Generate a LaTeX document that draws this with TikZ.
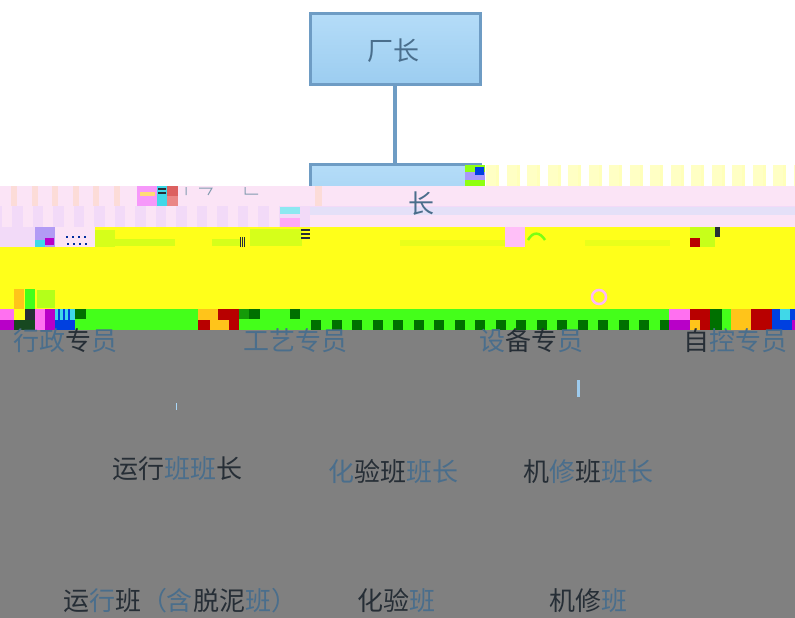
\documentclass[tikz,border=0pt]{standalone}
\usepackage{fontspec}
\newfontfamily\cjk{Noto Sans CJK SC}
\definecolor{boxfill}{HTML}{A9D6F6}
\definecolor{boxfilltop}{HTML}{B4DCF8}
\definecolor{boxfillbot}{HTML}{9CCDF0}
\definecolor{boxline}{HTML}{6E9CC4}
\definecolor{bandpink}{HTML}{FBE4F6}
\definecolor{bandpeach}{HTML}{FCDCD8}
\definecolor{bandlav}{HTML}{F2DAF8}
\definecolor{bandlavb}{HTML}{E4E0F8}
\definecolor{glyellow}{HTML}{FFFF1A}
\definecolor{glgreen}{HTML}{44FF1A}
\definecolor{gldark}{HTML}{007000}
\definecolor{glgray}{HTML}{808080}
\definecolor{glcream}{HTML}{FFFFC4}
\definecolor{glorange}{HTML}{FFC41A}
\definecolor{glred}{HTML}{B80000}
\definecolor{glpink}{HTML}{FF70F0}
\definecolor{glpurple}{HTML}{B800C8}
\definecolor{glblue}{HTML}{0040E0}
\definecolor{glcyan}{HTML}{40D8E8}
\definecolor{txtb}{HTML}{4A6E8C}
\definecolor{txtk}{HTML}{262E36}
\newcommand{\Bc}[1]{\textcolor{txtb}{#1}}
\newcommand{\Kc}[1]{\textcolor{txtk}{#1}}
\newcommand{\Rc}[5]{\fill[#1] (#2,#3) rectangle (#4,#5);}
\tikzset{
  orgbox/.style={draw=boxline,line width=3pt,top color=boxfilltop,bottom color=boxfillbot,minimum width=170pt,minimum height=70pt,inner sep=0pt},
  lbl/.style={font=\cjk\fontsize{26}{26}\selectfont,inner sep=0pt,text=txtb},
  link/.style={draw=boxline,line width=3.4pt},
}
\begin{document}
\begin{tikzpicture}[x=1pt,y=-1pt]
\useasboundingbox (0,0) rectangle (795,618);
\fill[white] (0,0) rectangle (795,618);
% top boxes and connector
\node[orgbox] (factory) at (395,49) {};
\node[orgbox] (deputy) at (395,199) {};
\draw[link] (factory) -- (deputy);
\node[lbl] (factorytext) at (393,51) {厂\Bc{长}};
% cream stripes right of the second box
\foreach \i in {0,...,15} {
  \Rc{glcream}{\i*20.5+486}{165}{\i*20.5+496}{186}
  \Rc{glyellow!30}{\i*20.5+496}{165}{\i*20.5+499}{186}
}
\Rc{glgreen!60!yellow}{465}{165}{485}{172}
\Rc{bandlav!70!blue}{465}{172}{485}{180}
\Rc{glgreen!60!yellow}{465}{180}{485}{186}
\Rc{glblue}{475}{167}{484}{175}
% bands
\Rc{bandpink}{0}{186}{795}{206}
\foreach \i in {0,...,5} {\Rc{bandpeach}{\i*20.5+11}{186}{\i*20.5+17}{206}}
\Rc{bandpeach}{315}{186}{322}{206}
\Rc{bandlav}{0}{206}{795}{227}
\foreach \i in {0,...,13} {\Rc{bandpink}{\i*20.5+2}{206}{\i*20.5+12}{227}}
\Rc{bandlavb}{310}{207}{795}{215}
\Rc{bandpink}{310}{215}{795}{227}
\Rc{glcyan!60!white}{280}{207}{300}{214}
\Rc{glpink!60!white}{280}{218}{300}{227}
% corrupt blocks on the pink row
\Rc{bandlav!70!magenta}{137}{186}{157}{206}
\Rc{glorange!60}{140}{192}{155}{196}
\Rc{glcyan}{157}{186}{167}{206}
\Rc{txtk}{158}{188}{166}{190}
\Rc{txtk}{158}{192}{166}{194}
\Rc{glred!50!pink}{167}{186}{178}{196}
\Rc{glred!30!pink}{167}{196}{178}{206}
% fragments of a cut-off label
\draw[txtb!70,line width=1pt] (186,187) -- (186,195) (199,188) -- (212,188) -- (208,195) (245,187) -- (245,194) -- (258,194);
% yellow field
\Rc{glyellow}{0}{227}{795}{309}
\Rc{bandlav}{0}{227}{35}{247}
\Rc{bandpink}{55}{227}{95}{247}
\Rc{glpink!70!cyan}{35}{227}{55}{247}
\Rc{glcyan}{35}{240}{45}{247}
\Rc{glpurple}{45}{238}{54}{245}
\foreach \x in {66,72,78,84} {\Rc{glblue!70!black}{\x}{236}{\x+2}{238}\Rc{glblue!70!black}{\x+1}{243}{\x+3}{245}}
\Rc{glgreen!22!glyellow}{95}{230}{115}{247}
\Rc{glgreen!22!glyellow}{115}{239}{175}{246}
\Rc{glgreen!22!glyellow}{212}{239}{240}{246}
\foreach \x in {240,242,244} {\Rc{txtk}{\x}{237}{\x+1}{247}}
\Rc{glgreen!22!glyellow}{250}{229}{302}{246}
\Rc{txtk}{301}{229}{310}{231}
\Rc{txtk}{301}{233}{310}{235}
\Rc{txtk}{301}{237}{310}{239}
\Rc{glgreen!12!glyellow}{400}{240}{505}{246}
\Rc{glgreen!12!glyellow}{585}{240}{670}{246}
\Rc{glpink!45!white}{505}{227}{525}{247}
\draw[glgreen!70!yellow,line width=2.5pt] (528,240) .. controls (533,231) and (540,232) .. (545,240);
\Rc{glgreen!30!glyellow}{690}{227}{715}{247}
\Rc{txtk}{715}{227}{720}{237}
\Rc{glred}{690}{238}{700}{247}
\draw[glpink!50!white,line width=2.5pt] (599,297) circle (7);
\Rc{glorange}{14}{289}{24}{309}
\Rc{glgreen}{25}{289}{35}{309}
\Rc{glgreen!40!glyellow}{37}{290}{55}{308}
% green row
\Rc{glgreen}{0}{309}{795}{330}
\foreach \i in {0,...,17} {\Rc{gldark}{\i*20.5+311}{320}{\i*20.5+321}{330}}
\Rc{gldark}{75}{309}{86}{319}
\Rc{gldark}{248}{309}{260}{319}
\Rc{gldark}{290}{309}{300}{319}
% left colour blocks
\Rc{glpink}{0}{309}{14}{320}
\Rc{glpurple}{0}{320}{14}{330}
\Rc{glyellow}{14}{309}{25}{320}
\Rc{txtk!60!gldark}{14}{320}{35}{330}
\Rc{txtk}{25}{309}{35}{320}
\Rc{glpink}{35}{309}{45}{330}
\Rc{glpurple}{45}{309}{55}{330}
\Rc{glblue}{55}{320}{75}{330}
\Rc{glcyan}{55}{309}{75}{320}
\foreach \x in {58,63,68} {\Rc{glblue}{\x}{309}{\x+2}{320}}
% middle colour blocks
\Rc{glorange}{198}{309}{218}{320}
\Rc{glred}{198}{320}{210}{330}
\Rc{glorange}{210}{320}{218}{330}
\Rc{glred}{218}{309}{239}{320}
\Rc{glorange}{218}{320}{229}{330}
\Rc{glred}{229}{320}{239}{330}
\Rc{gldark!70!glgreen}{239}{309}{249}{319}
% right colour blocks
\Rc{glpink}{669}{309}{690}{320}
\Rc{glpurple}{669}{320}{690}{330}
\Rc{glred}{690}{309}{710}{330}
\Rc{glorange}{690}{320}{700}{330}
\Rc{gldark}{710}{309}{722}{330}
\Rc{glorange}{731}{309}{751}{330}
\Rc{glred}{751}{309}{772}{330}
\Rc{glblue}{772}{309}{795}{330}
\Rc{glcyan}{780}{309}{790}{320}
\Rc{glpurple}{792}{320}{795}{330}
% grey field
\Rc{glgray}{0}{330}{795}{618}
% remaining text of the second box
\node[lbl] (deputytext) at (421,204) {长};
% text rows
\node[lbl] (admin) at (65,341) {\Bc{行}\Bc{政}\Kc{专}\Bc{员}};
\node[lbl] (process) at (295,341) {工艺专员};
\node[lbl] (equip) at (531,341) {\Bc{设}\Kc{备}\Kc{专}\Bc{员}};
\node[lbl] (control) at (735,341) {\Kc{自}\Bc{控}\Bc{专}\Bc{员}};
\node[lbl] (runlead) at (177,469) {\Kc{运}\Kc{行}\Bc{班}\Bc{班}\Kc{长}};
\node[lbl] (lablead) at (393,472) {\Bc{化}\Kc{验}\Kc{班}\Bc{班}\Bc{长}};
\node[lbl] (mainlead) at (588,472) {\Kc{机}\Bc{修}\Kc{班}\Bc{班}\Bc{长}};
\node[lbl] (runteam) at (180,601) {\Kc{运}\Bc{行}\Kc{班}\Bc{（}\Bc{含}\Kc{脱}\Kc{泥}\Bc{班}\Bc{）}};
\node[lbl] (labteam) at (396,601) {\Kc{化}\Kc{验}\Bc{班}};
\node[lbl] (mainteam) at (588,601) {\Kc{机}\Kc{修}\Bc{班}};
% surviving connector fragments
\coordinate (fragtop) at (578.5,380);
\coordinate (fragbot) at (578.5,397);
\draw[link,draw=boxfill!80!boxline] (fragtop) -- (fragbot);
\coordinate (specktop) at (176.5,403);
\coordinate (speckbot) at (176.5,410);
\draw[draw=boxfill,line width=1pt] (specktop) -- (speckbot);
\end{tikzpicture}
\end{document}
